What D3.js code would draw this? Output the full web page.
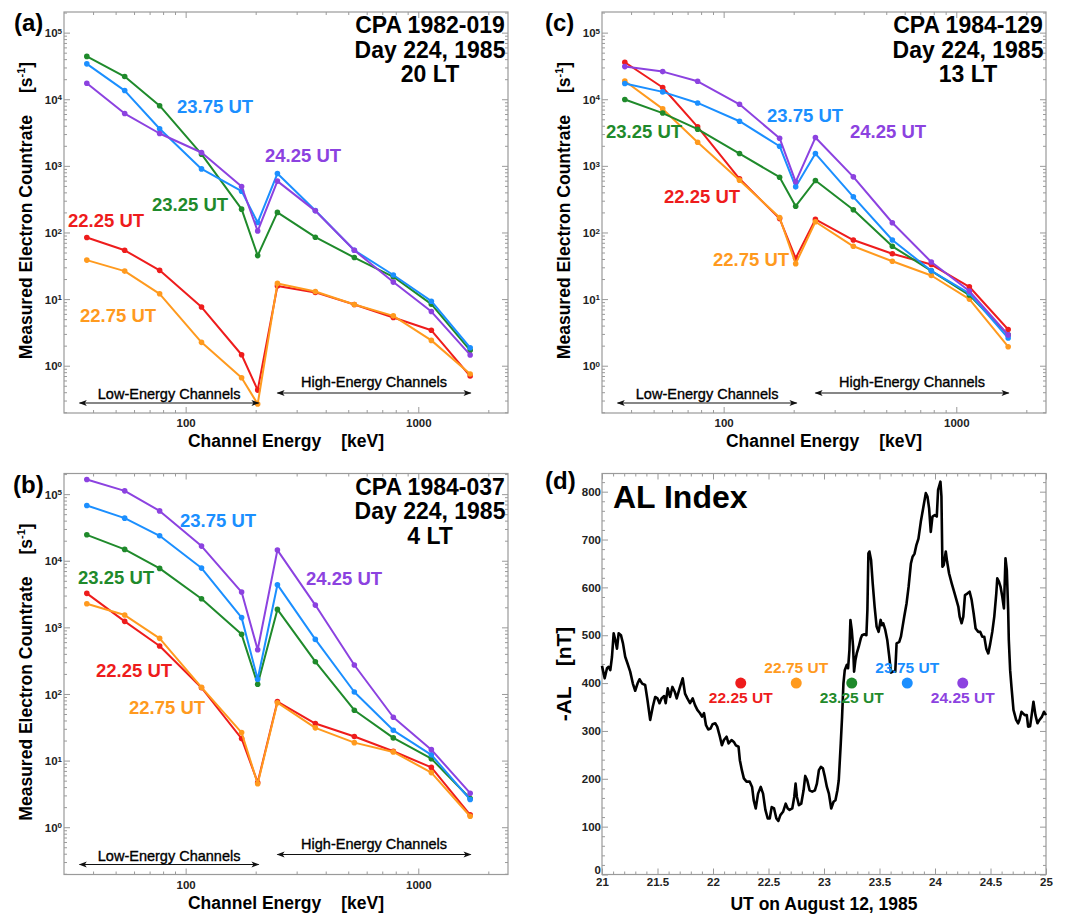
<!DOCTYPE html>
<html>
<head>
<meta charset="utf-8">
<script src="https://d3js.org/d3.v7.min.js"></script>
<style>
  body { margin: 0; background: #ffffff; }
  svg { display: block; }
  text { font-family: "Liberation Sans", Arial, Helvetica, sans-serif; font-weight: bold; fill: #000; }
  .frame { fill: none; stroke: #9a9a9a; stroke-width: 1.2; }
  .tick line { stroke: #9a9a9a; stroke-width: 1; }
  .tick text { font-size: 11.5px; fill: #222; font-family: "Liberation Sans", Arial, sans-serif; font-weight: bold; }
  path.domain { display: none; }
  text.panelId { font-size: 24px; }
  text.title { font-size: 23px; }
  text.axisLabel { font-size: 17.5px; }
  text.utLabel { font-size: 18.5px; }
  text.chanLabel { font-size: 14.5px; font-weight: normal; stroke: #000; stroke-width: 0.35px; }
  text.alTitle { font-size: 32px; }
  text.alLabel { font-size: 15.5px; }
</style>
</head>
<body>
<script>

const width = 1078, height = 917;
const W = 444, H = 401;

// channel energies (keV)
const energy = [37.6, 54.7, 77.3, 117, 174, 204, 248, 361, 531, 781, 1138, 1671];
const utNames = ["22.25 UT", "22.75 UT", "23.25 UT", "23.75 UT", "24.25 UT"];
const utHours = [22.25, 22.75, 23.25, 23.75, 24.25];
const colours = ["#ee1c1c", "#ff9a1e", "#1f8a2b", "#1b8fff", "#8c42e0"];

// (a) CPA 1982-019, 20 LT
const rateA_2225 = [84, 54, 27, 7.6, 1.46, 0.43, 15.7, 12.6, 8.3, 5.3, 3.4, 0.70];
const rateA_2275 = [38.5, 26.3, 12, 2.24, 0.66, 0.266, 17.2, 13, 8.3, 5.6, 2.4, 0.75];
const rateA_2325 = [44000, 21900, 8000, 1500, 224, 45, 200, 85, 42, 21.6, 8.4, 1.7];
const rateA_2375 = [34000, 13500, 3600, 900, 417, 141, 767, 214, 54, 23, 9.3, 1.86];
const rateA_2425 = [17400, 6100, 3060, 1585, 490, 105, 590, 211, 54, 18, 6.5, 1.45];

// (b) CPA 1984-037, 4 LT
const rateB_2225 = [3240, 1230, 525, 124, 21.4, 4.7, 77, 36, 23, 13.8, 7.9, 1.53];
const rateB_2275 = [2260, 1530, 684, 126, 26.3, 4.5, 74, 31, 18.6, 13.5, 6.6, 1.46];
const rateB_2325 = [24500, 14800, 7670, 2690, 785, 140, 1860, 305, 57, 21.9, 10.7, 2.7];
const rateB_2375 = [67600, 43600, 23700, 7760, 1400, 166, 4370, 660, 107, 28.5, 12.2, 2.6];
const rateB_2425 = [166000, 112000, 56000, 16600, 3390, 462, 14450, 2160, 272, 44.7, 14.6, 3.24];

// (c) CPA 1984-129, 13 LT
const rateC_2225 = [35900, 15000, 3850, 640, 162, 41, 157, 77, 48, 33, 15.3, 3.5];
const rateC_2275 = [18800, 7160, 2260, 610, 168, 34, 145, 62, 37, 22.6, 10, 1.93];
const rateC_2325 = [9900, 6200, 3550, 1530, 676, 248, 603, 219, 62, 26.6, 11.5, 2.9];
const rateC_2375 = [17200, 12900, 8800, 4680, 1970, 484, 1530, 343, 77, 26.6, 12.2, 2.6];
const rateC_2425 = [30900, 26000, 18600, 8400, 2600, 575, 2660, 684, 140, 36, 13.2, 2.9];

// (d) AL index
const alUT = [21.000,21.024,21.045,21.060,21.075,21.090,21.105,21.120,21.135,21.150,21.171,21.189,21.209,21.230,21.254,21.278,21.299,21.320,21.338,21.362,21.389,21.410,21.434,21.458,21.479,21.500,21.518,21.536,21.560,21.574,21.592,21.613,21.634,21.655,21.673,21.703,21.727,21.748,21.769,21.793,21.817,21.838,21.859,21.883,21.901,21.919,21.937,21.957,21.978,21.996,22.020,22.038,22.062,22.080,22.098,22.122,22.140,22.167,22.188,22.206,22.230,22.242,22.260,22.278,22.302,22.331,22.352,22.367,22.385,22.406,22.430,22.451,22.472,22.493,22.511,22.529,22.550,22.571,22.589,22.607,22.631,22.655,22.673,22.690,22.714,22.732,22.744,22.756,22.774,22.795,22.816,22.831,22.849,22.870,22.894,22.918,22.936,22.954,22.972,22.990,23.008,23.026,23.044,23.065,23.086,23.103,23.121,23.133,23.151,23.163,23.175,23.187,23.205,23.217,23.229,23.238,23.250,23.262,23.271,23.283,23.295,23.313,23.331,23.343,23.364,23.382,23.391,23.400,23.409,23.424,23.439,23.456,23.474,23.492,23.510,23.522,23.534,23.552,23.570,23.588,23.603,23.618,23.642,23.654,23.678,23.693,23.708,23.723,23.744,23.762,23.783,23.798,23.815,23.833,23.851,23.872,23.893,23.917,23.932,23.947,23.962,23.977,23.998,24.016,24.028,24.049,24.058,24.067,24.079,24.097,24.109,24.127,24.151,24.172,24.193,24.210,24.222,24.240,24.255,24.270,24.291,24.312,24.330,24.348,24.366,24.390,24.408,24.426,24.444,24.462,24.480,24.498,24.516,24.534,24.552,24.561,24.576,24.591,24.606,24.621,24.635,24.647,24.659,24.665,24.677,24.689,24.707,24.731,24.749,24.761,24.779,24.791,24.809,24.827,24.839,24.857,24.869,24.887,24.905,24.923,24.941,24.964,24.982,25.000];
const alNT = [436,410,431,434,427,455,504,490,472,504,500,483,455,441,424,399,384,399,408,399,396,364,323,351,371,368,358,368,373,358,389,371,392,382,368,392,410,378,368,358,368,354,344,337,330,337,312,303,305,314,316,309,288,270,281,288,274,281,277,270,267,239,218,201,194,194,183,155,138,169,183,169,135,117,117,141,138,117,112,124,131,148,138,135,138,162,190,162,145,148,176,206,197,176,173,176,190,218,225,222,204,183,169,138,152,155,176,197,274,330,399,427,438,431,469,532,511,476,424,448,462,476,493,500,502,500,553,671,675,657,608,560,518,507,532,521,525,511,490,455,422,424,424,483,486,497,518,539,567,601,650,664,670,689,702,737,765,797,790,765,716,748,751,748,804,821,790,643,647,675,654,629,608,591,574,560,539,525,539,584,587,591,574,546,514,507,507,497,497,472,462,483,507,539,587,619,612,601,581,556,661,636,553,490,427,392,344,323,316,323,340,337,333,333,309,310,330,361,333,316,323,330,340,333];
const alMarkerLevel = 400;

const energyDomain = [30, 2430];
const rateDomain = [0.195, 204000];
const lowChannels = [35, 206];
const highChannels = [248, 1680];

const svg = d3.select("body").append("svg")
  .attr("width", width)
  .attr("height", height);

const defs = svg.append("defs");
defs.append("marker")
  .attr("id", "arrow")
  .attr("viewBox", "0 -5 10 10")
  .attr("refX", 9).attr("refY", 0)
  .attr("markerUnits", "userSpaceOnUse")
  .attr("markerWidth", 10).attr("markerHeight", 8)
  .attr("orient", "auto-start-reverse")
  .append("path")
  .attr("d", "M0,-3.6L10,0L0,3.6L2.5,0Z")
  .attr("fill", "#111");

// Mathematica-like frame with inward ticks on all four sides
function frameTicks(g, x, y, xMajor, xMinor, yMajor, yMinor, xPad, yPad) {
  g.append("rect").attr("class", "frame").attr("width", W).attr("height", H);

  g.append("g").attr("class", "xAxis").attr("transform", `translate(0,${H})`)
    .call(d3.axisBottom(x).tickValues(xMajor).tickSize(-6).tickPadding(xPad).tickFormat(d => d3.format("")(d)));
  g.append("g").attr("transform", `translate(0,${H})`)
    .call(d3.axisBottom(x).tickValues(xMinor).tickSize(-3).tickFormat(""));
  g.append("g").call(d3.axisTop(x).tickValues(xMajor).tickSize(-6).tickFormat(""));
  g.append("g").call(d3.axisTop(x).tickValues(xMinor).tickSize(-3).tickFormat(""));

  g.append("g").attr("class", "yAxis")
    .call(d3.axisLeft(y).tickValues(yMajor).tickSize(-6).tickPadding(yPad).tickFormat(d => d));
  g.append("g").call(d3.axisLeft(y).tickValues(yMinor).tickSize(-3).tickFormat(""));
  g.append("g").attr("transform", `translate(${W},0)`)
    .call(d3.axisRight(y).tickValues(yMajor).tickSize(-6).tickFormat(""));
  g.append("g").attr("transform", `translate(${W},0)`)
    .call(d3.axisRight(y).tickValues(yMinor).tickSize(-3).tickFormat(""));

  g.selectAll("g").attr("font-family", null).attr("font-size", null);
}

function drawSpectrum(p) {
  const g = svg.append("g").attr("transform", `translate(${p.left},${p.top})`);
  const x = d3.scaleLog().domain(energyDomain).range([0, W]);
  const y = d3.scaleLog().domain(rateDomain).range([H, 0]);

  const xMinor = d3.range(40, 100, 10).concat(d3.range(200, 1000, 100), [2000]);
  const yMajor = d3.range(0, 6).map(k => Math.pow(10, k));
  const yMinor = [];
  d3.range(-1, 6).forEach(k => d3.range(2, 10).forEach(m => {
    const v = m * Math.pow(10, k);
    if (v > rateDomain[0] && v < rateDomain[1]) yMinor.push(v);
  }));

  frameTicks(g, x, y, [100, 1000], xMinor, yMajor, yMinor, 6, 2);

  // power-of-ten labels
  g.select(".yAxis").selectAll(".tick text")
    .text(null)
    .attr("dy", "0.36em")
    .each(function(d) {
      const t = d3.select(this);
      t.append("tspan").text("10");
      t.append("tspan").attr("dy", "-0.45em").style("font-size", "8px").text(Math.round(Math.log10(d)));
    });

  const line = d3.line().x((d, i) => x(energy[i])).y(d => y(d));

  p.series.forEach((s, k) => {
    g.append("path")
      .datum(s)
      .attr("fill", "none")
      .attr("stroke", colours[k])
      .attr("stroke-width", 2)
      .attr("stroke-linejoin", "round")
      .attr("d", line);
    g.selectAll(null)
      .data(s)
      .enter()
      .append("circle")
      .attr("cx", (d, i) => x(energy[i]))
      .attr("cy", d => y(d))
      .attr("r", 2.8)
      .attr("fill", colours[k]);
  });

  // UT labels
  p.labelPos.forEach((pos, k) => {
    g.append("text")
      .attr("class", "utLabel")
      .attr("x", pos[0])
      .attr("y", pos[1])
      .style("fill", colours[k])
      .text(utNames[k]);
  });

  // satellite title
  p.title.forEach((t, i) => {
    g.append("text")
      .attr("class", "title")
      .attr("x", 366)
      .attr("y", 21 + i * 24.5)
      .attr("text-anchor", "middle")
      .text(t);
  });

  g.append("text")
    .attr("class", "panelId")
    .attr("x", p.idX)
    .attr("y", 19)
    .text(p.id);

  // channel arrows
  [[lowChannels, 391, 387, "Low-Energy Channels"], [highChannels, 381, 375, "High-Energy Channels"]]
    .forEach(([ch, ay, ly, label]) => {
      g.append("line")
        .attr("x1", x(ch[0])).attr("x2", x(ch[1]))
        .attr("y1", ay).attr("y2", ay)
        .attr("stroke", "#111").attr("stroke-width", 1.2)
        .attr("marker-start", "url(#arrow)")
        .attr("marker-end", "url(#arrow)");
      g.append("text")
        .attr("class", "chanLabel")
        .attr("x", x(Math.sqrt(ch[0] * ch[1])))
        .attr("y", ly)
        .attr("text-anchor", "middle")
        .text(label);
    });

  // axis labels
  g.append("text")
    .attr("class", "axisLabel")
    .attr("x", W / 2)
    .attr("y", H + 34)
    .attr("text-anchor", "middle")
    .call(t => {
      t.append("tspan").text("Channel Energy");
      t.append("tspan").attr("dx", 20).text("[keV]");
    });

  g.append("text")
    .attr("class", "axisLabel")
    .attr("transform", `translate(-32,${H / 2 - 2}) rotate(-90)`)
    .attr("text-anchor", "middle")
    .call(t => {
      t.append("tspan").text("Measured Electron Countrate");
      t.append("tspan").attr("dx", 22).text("[s");
      t.append("tspan").attr("dy", -7).style("font-size", "11px").text("-1");
      t.append("tspan").attr("dy", 7).text("]");
    });
}

drawSpectrum({
  left: 64, top: 12, id: "(a)", idX: -50,
  title: ["CPA 1982-019", "Day 224, 1985", "20 LT"],
  series: [rateA_2225, rateA_2275, rateA_2325, rateA_2375, rateA_2425],
  labelPos: [[4, 215], [16, 310], [88, 199], [113, 101], [201, 150]]
});

drawSpectrum({
  left: 64, top: 473.5, id: "(b)", idX: -51,
  title: ["CPA 1984-037", "Day 224, 1985", "4 LT"],
  series: [rateB_2225, rateB_2275, rateB_2325, rateB_2375, rateB_2425],
  labelPos: [[32, 203.5], [65, 240.5], [14, 110.5], [116, 53.5], [242, 111.5]]
});

drawSpectrum({
  left: 602, top: 12, id: "(c)", idX: -57,
  title: ["CPA 1984-129", "Day 224, 1985", "13 LT"],
  series: [rateC_2225, rateC_2275, rateC_2325, rateC_2375, rateC_2425],
  labelPos: [[62, 191], [111, 254], [4, 126], [165, 110], [248, 126]]
});

// (d) AL index panel
(function() {
  const g = svg.append("g").attr("transform", "translate(602,473.5)");
  const x = d3.scaleLinear().domain([21, 25]).range([0, W]);
  const y = d3.scaleLinear().domain([0, 838]).range([H, 0]);

  const xMajor = d3.range(21, 25.01, 0.5);
  const xMinor = d3.range(21.1, 25, 0.1).filter(v => Math.abs(v * 2 - Math.round(v * 2)) > 0.01);
  const yMajor = d3.range(0, 801, 100);
  const yMinor = d3.range(20, 838, 20).filter(v => v % 100 !== 0);

  frameTicks(g, x, y, xMajor, xMinor, yMajor, yMinor, 3, 1);

  // lift the "0" label so it sits just above the "21" label
  g.select(".yAxis").selectAll(".tick text")
    .filter(d => d === 0)
    .attr("dy", "-0.1em");

  g.append("path")
    .datum(d3.zip(alUT, alNT))
    .attr("fill", "none")
    .attr("stroke", "#000")
    .attr("stroke-width", 2.6)
    .attr("stroke-linejoin", "round")
    .attr("d", d3.line().x(d => x(d[0])).y(d => y(d[1])));

  g.selectAll(null)
    .data(utHours)
    .enter()
    .append("circle")
    .attr("cx", d => x(d))
    .attr("cy", y(alMarkerLevel))
    .attr("r", 5.5)
    .attr("fill", (d, i) => colours[i]);

  g.selectAll(null)
    .data(utHours)
    .enter()
    .append("text")
    .attr("class", "alLabel")
    .attr("x", d => x(d))
    .attr("y", (d, i) => y(alMarkerLevel) + (i % 2 === 0 ? 20 : -10))
    .attr("text-anchor", "middle")
    .style("fill", (d, i) => colours[i])
    .text((d, i) => utNames[i]);

  g.append("text").attr("class", "alTitle").attr("x", 11).attr("y", 34.5).text("AL Index");
  g.append("text").attr("class", "panelId").attr("x", -57).attr("y", 15).text("(d)");

  g.append("text")
    .attr("class", "axisLabel")
    .attr("x", W / 2)
    .attr("y", H + 35)
    .attr("text-anchor", "middle")
    .text("UT on August 12, 1985");

  g.append("text")
    .attr("class", "axisLabel")
    .style("font-size", "21px")
    .attr("transform", `translate(-31,${H / 2}) rotate(-90)`)
    .attr("text-anchor", "middle")
    .call(t => {
      t.append("tspan").text("-AL");
      t.append("tspan").attr("dx", 20).text("[nT]");
    });
})();

</script>
</body>
</html>
